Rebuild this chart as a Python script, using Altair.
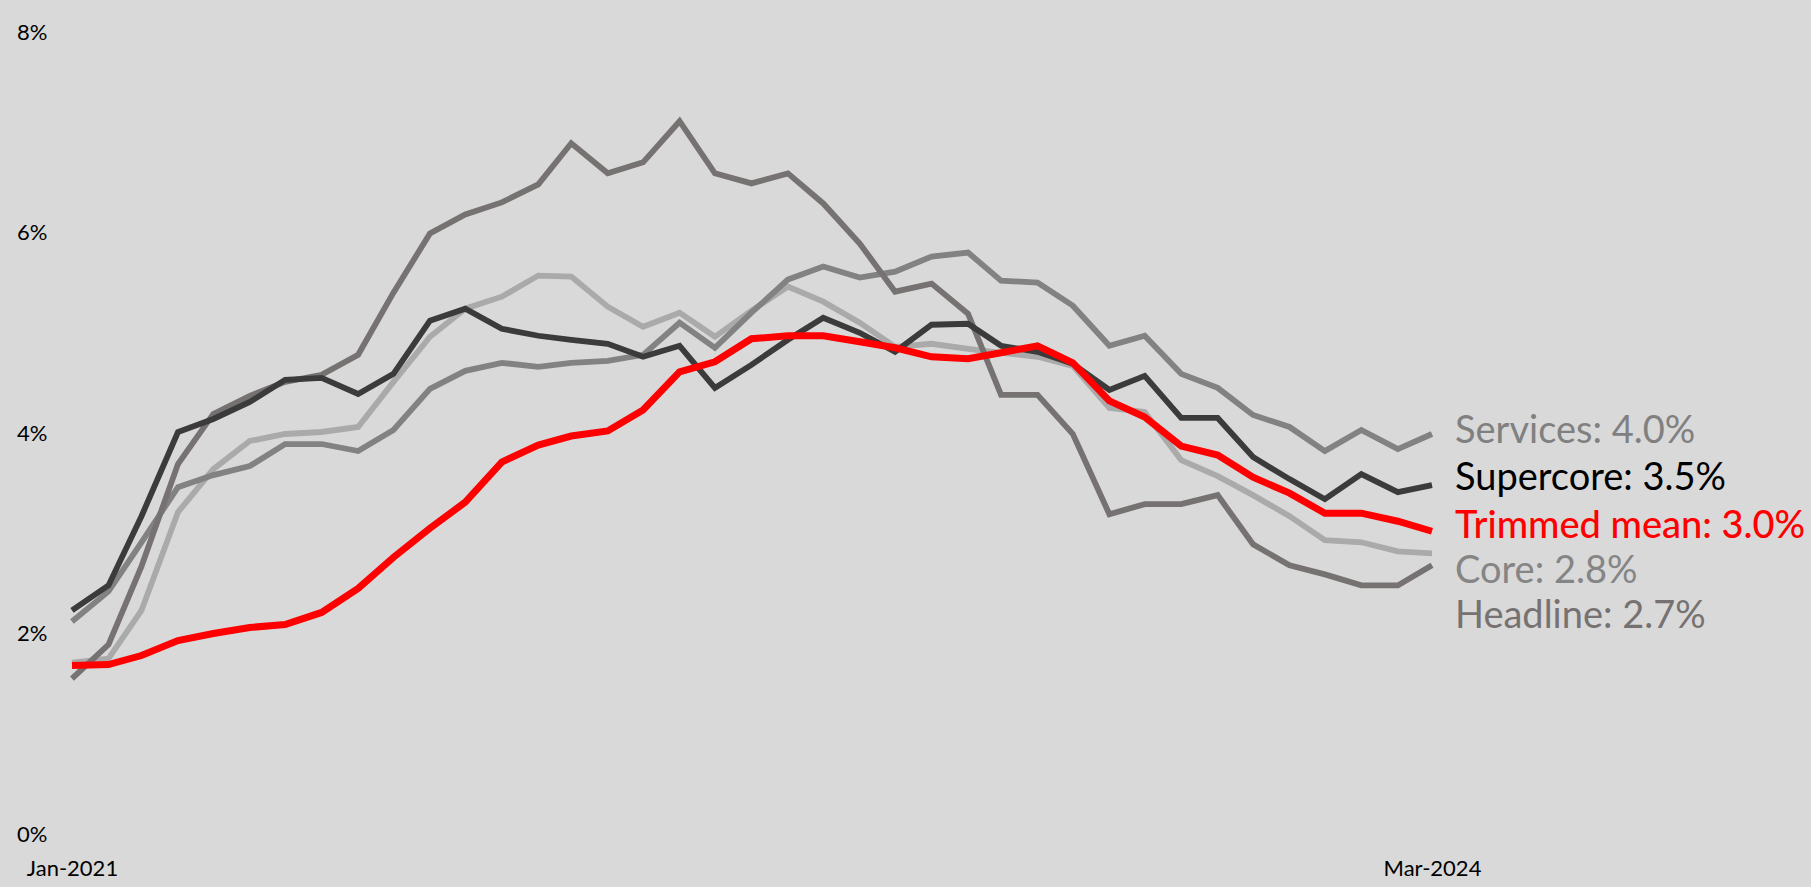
import altair as alt
import pandas as pd

# Monthly, Jan-2021 .. Mar-2024 (39 months), year-over-year %
months = pd.date_range("2021-01-01", periods=39, freq="MS").strftime("%Y-%m-%d").tolist()

headline = [1.55, 1.89, 2.67, 3.69, 4.19, 4.37, 4.51, 4.58, 4.78, 5.40, 5.99, 6.18,
            6.30, 6.48, 6.89, 6.59, 6.70, 7.11, 6.59, 6.49, 6.59, 6.29, 5.89, 5.41,
            5.49, 5.19, 4.38, 4.38, 3.99, 3.19, 3.29, 3.29, 3.38, 2.89, 2.68, 2.59,
            2.48, 2.48, 2.68]
services = [2.12, 2.42, 2.91, 3.46, 3.58, 3.67, 3.89, 3.89, 3.82, 4.03, 4.44, 4.62,
            4.70, 4.66, 4.70, 4.72, 4.78, 5.10, 4.85, 5.20, 5.53, 5.66, 5.55, 5.61,
            5.76, 5.80, 5.52, 5.50, 5.27, 4.87, 4.97, 4.59, 4.45, 4.18, 4.06, 3.82,
            4.03, 3.84, 3.99]
core = [1.71, 1.75, 2.23, 3.21, 3.64, 3.92, 3.99, 4.01, 4.06, 4.51, 4.96, 5.24,
        5.36, 5.57, 5.56, 5.26, 5.06, 5.20, 4.96, 5.22, 5.46, 5.31, 5.10, 4.86,
        4.89, 4.84, 4.80, 4.76, 4.67, 4.25, 4.21, 3.73, 3.57, 3.38, 3.17, 2.93,
        2.91, 2.82, 2.80]
supercore = [2.23, 2.48, 3.17, 4.01, 4.14, 4.31, 4.53, 4.55, 4.39, 4.59, 5.12, 5.24,
             5.04, 4.97, 4.93, 4.89, 4.76, 4.87, 4.45, 4.68, 4.93, 5.15, 5.00, 4.81,
             5.08, 5.09, 4.87, 4.81, 4.69, 4.43, 4.57, 4.15, 4.15, 3.76, 3.54, 3.34,
             3.59, 3.41, 3.48]
trimmed = [1.68, 1.69, 1.78, 1.93, 2.00, 2.06, 2.09, 2.21, 2.45, 2.76, 3.05, 3.31,
           3.71, 3.88, 3.97, 4.02, 4.23, 4.61, 4.71, 4.94, 4.97, 4.97, 4.91, 4.85,
           4.76, 4.74, 4.80, 4.87, 4.70, 4.32, 4.16, 3.87, 3.78, 3.56, 3.40, 3.20,
           3.20, 3.12, 3.02]

# drawing order: bottom -> top
series_names = ["Core", "Services", "Headline", "Supercore", "Trimmed mean"]
series_values = [core, services, headline, supercore, trimmed]
line_colors = ["#aaaaaa", "#828282", "#767272", "#3b3b3b", "#ff0000"]
line_widths = [5.8, 5.8, 5.8, 5.8, 7]

# right-hand labels (top -> bottom), baseline positions in % units
label_names = ["Services", "Supercore", "Trimmed mean", "Core", "Headline"]
label_values = [services[-1], supercore[-1], trimmed[-1], core[-1], headline[-1]]
label_y = [3.905, 3.433, 2.951, 2.502, 2.053]
label_colors = ["#808080", "#000000", "#ff0000", "#858585", "#767272"]
label_weights = ["normal", "normal", 500, "normal", "normal"]

y_ticks = [0, 2, 4, 6, 8]

FONT = "Lato"

x_scale = alt.Scale(
    type="utc",
    domain=[alt.DateTime(year=2021, month=1, date=1, utc=True),
            alt.DateTime(year=2024, month=3, date=1, utc=True)],
    nice=False,
)
y_scale = alt.Scale(domain=[0, 8], nice=False, zero=True)

x_axis = alt.Axis(
    values=[alt.DateTime(year=2021, month=1, date=1, utc=True),
            alt.DateTime(year=2024, month=3, date=1, utc=True)],
    format="%b-%Y", title=None, grid=False, domain=False, ticks=False, tickSize=0,
    labelPadding=24, labelFontSize=22, labelFont=FONT, labelColor="#000000",
    labelFlush=False, labelOverlap=False,
)
y_axis = alt.Axis(
    values=y_ticks, labelExpr="datum.value + '%'", title=None, grid=False,
    domain=False, ticks=False, tickSize=0, labelPadding=25, labelFontSize=22,
    labelFont=FONT, labelColor="#000000",
)

layers = []
for name, vals, col, w in zip(series_names, series_values, line_colors, line_widths):
    df = pd.DataFrame({"date": months, "value": vals, "series": name})
    layers.append(
        alt.Chart(df).mark_line(color=col, strokeWidth=w, strokeJoin="miter").encode(
            x=alt.X("date:T", scale=x_scale, axis=x_axis),
            y=alt.Y("value:Q", scale=y_scale, axis=y_axis),
        )
    )

for name, val, yy, col, wt in zip(label_names, label_values, label_y, label_colors, label_weights):
    ldf = pd.DataFrame({"date": [months[-1]], "value": [yy], "text": [f"{name}: {val:.1f}%"]})
    layers.append(
        alt.Chart(ldf).mark_text(
            align="left", baseline="alphabetic", dx=23, fontSize=38, font=FONT,
            fontWeight=wt, color=col,
        ).encode(
            x=alt.X("date:T", scale=x_scale, axis=x_axis),
            y=alt.Y("value:Q", scale=y_scale, axis=y_axis),
            text="text:N",
        )
    )

chart = alt.layer(*layers).properties(
    width=1360,
    height=802,
    autosize="none",
    padding={"left": 72, "top": 32, "right": 379, "bottom": 53},
    background="#d9d9d9",
).configure_view(stroke=None)

chart.save("out.html", embed_options={"renderer": "svg", "actions": False})
